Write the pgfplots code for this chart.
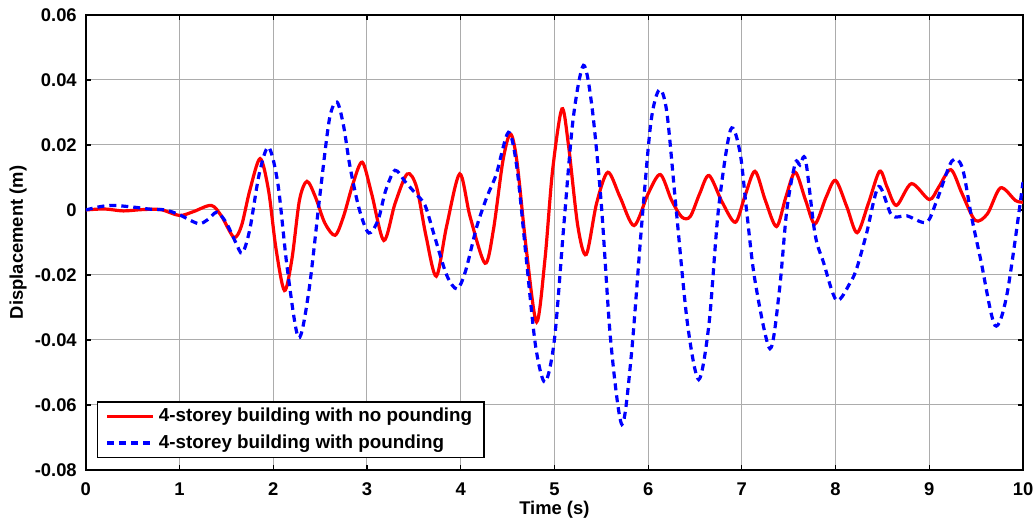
\documentclass[border=0pt]{standalone}
\usepackage{pgfplots}
\pgfplotsset{compat=1.18}
\usepackage{fontspec}
\setmainfont{Liberation Sans}
\begin{document}
\begin{tikzpicture}
\begin{axis}[
  scale only axis,
  width=468.7pt, height=227.5pt,
  xmin=0, xmax=10, ymin=-0.08, ymax=0.06,
  scaled x ticks=false, scaled y ticks=false,
  xtick={0,1,...,10},
  xticklabels={0,1,2,3,4,5,6,7,8,9,10},
  ytick={-0.08,-0.06,-0.04,-0.02,0,0.02,0.04,0.06},
  yticklabels={-0.08,-0.06,-0.04,-0.02,0,0.02,0.04,0.06},
  tick align=inside, tickpos=both,
  major tick length=2.5pt,
  every tick/.style={black, line width=0.6pt},
  axis line style={black, line width=1pt},
  grid=major,
  major grid style={gray!65, line width=0.5pt},
  tick label style={font=\bfseries\fontsize{9.2}{11}\selectfont},
  xticklabel style={yshift=-3pt},
  yticklabel style={xshift=-1pt},
  xlabel={Time (s)}, ylabel={Displacement (m)},
  label style={font=\bfseries\fontsize{9.2}{11}\selectfont},
  xlabel style={at={(axis description cs:0.5,-0.0866)}, anchor=center},
  ylabel style={at={(axis description cs:-0.0723,0.5)}, anchor=center},
  legend style={at={(0.012,0.026)}, anchor=south west, draw=black, line width=0.7pt,
    font=\bfseries\fontsize{9.4}{11}\selectfont, row sep=1pt,
    inner xsep=4pt, inner ysep=1pt},
  legend cell align=left,
  legend image code/.code={\draw[#1] (0pt,0pt) -- (23pt,0pt);},
]
\addplot[red, line width=1.6pt, smooth, tension=0.5] coordinates {
(0,0) (0.2,0.0003) (0.4,-0.0003) (0.6,0.0001) (0.8,0.0001) (1.0,-0.0017)
(1.15,-0.0005) (1.34,0.0014) (1.45,-0.002) (1.58,-0.0084) (1.66,-0.005)
(1.75,0.006) (1.86,0.0158) (1.95,0.006) (2.03,-0.012) (2.12,-0.0248)
(2.2,-0.015) (2.28,0.003) (2.36,0.0088) (2.45,0.004) (2.55,-0.004)
(2.66,-0.0078) (2.75,-0.002) (2.85,0.008) (2.95,0.0147) (3.05,0.005)
(3.18,-0.0094) (3.3,0.002) (3.43,0.0111) (3.53,0.007) (3.63,-0.008)
(3.74,-0.0204) (3.85,-0.005) (3.99,0.0111) (4.1,-0.002) (4.26,-0.0164)
(4.35,-0.006) (4.45,0.015) (4.53,0.0234) (4.6,0.015) (4.7,-0.012)
(4.81,-0.0345) (4.9,-0.015) (4.98,0.012) (5.08,0.0311) (5.15,0.02)
(5.25,-0.005) (5.34,-0.0137) (5.45,0.002) (5.57,0.0116) (5.7,0.004)
(5.85,-0.0048) (6.0,0.005) (6.13,0.0109) (6.25,0.003) (6.36,-0.0022)
(6.45,-0.002) (6.55,0.005) (6.65,0.0106) (6.79,0.0024) (6.93,-0.0038)
(7.03,0.004) (7.14,0.0119) (7.25,0.003) (7.37,-0.0051) (7.47,0.004)
(7.57,0.0116) (7.68,0.003) (7.78,-0.0043) (7.9,0.004) (8.0,0.0091)
(8.12,0.001) (8.23,-0.007) (8.35,0.002) (8.47,0.0119) (8.55,0.007)
(8.65,0.0014) (8.81,0.0081) (9.0,0.0032) (9.1,0.007) (9.23,0.0124)
(9.35,0.005) (9.49,-0.0032) (9.62,-0.0012) (9.76,0.0068) (9.92,0.0029)
(10,0.0024)
};
\addlegendentry{4-storey building with no pounding}
\addplot[blue, line width=1.6pt, dash pattern=on 3.5pt off 2.5pt, smooth, tension=0.5] coordinates {
(0,0) (0.15,0.001) (0.29,0.0014) (0.5,0.0009) (0.7,0.0002) (0.85,0.0)
(1.0,-0.0015) (1.2,-0.0042) (1.30,-0.003) (1.40,-0.0007) (1.5,-0.004)
(1.6,-0.010) (1.67,-0.0133) (1.75,-0.006) (1.85,0.011) (1.95,0.0193)
(2.05,0.008) (2.15,-0.018) (2.27,-0.0393) (2.38,-0.025) (2.5,0.005)
(2.6,0.028) (2.68,0.0332) (2.75,0.026) (2.82,0.0132) (2.92,0.000)
(3.02,-0.0071) (3.12,-0.003) (3.2,0.006) (3.30,0.0122) (3.41,0.0086)
(3.52,0.005) (3.62,0.0014) (3.72,-0.008) (3.85,-0.02) (3.96,-0.0243)
(4.05,-0.019) (4.17,-0.0053) (4.28,0.004) (4.38,0.011) (4.51,0.0239)
(4.6,0.013) (4.7,-0.015) (4.8,-0.042) (4.90,-0.053) (5.0,-0.04)
(5.1,-0.005) (5.2,0.028) (5.31,0.0445) (5.4,0.032) (5.5,0.002)
(5.6,-0.04) (5.72,-0.066) (5.82,-0.045) (5.93,-0.005) (6.03,0.027)
(6.12,0.037) (6.2,0.03) (6.3,0.0) (6.42,-0.035) (6.54,-0.0522)
(6.65,-0.035) (6.75,0.0) (6.88,0.0247) (6.98,0.0178) (7.05,0.0)
(7.14,-0.0217) (7.30,-0.0427) (7.4,-0.025) (7.48,0.0) (7.57,0.0144)
(7.62,0.0138) (7.68,0.0154) (7.78,-0.0073) (7.87,-0.016) (8.01,-0.0278)
(8.16,-0.0222) (8.23,-0.0176) (8.33,-0.0073) (8.46,0.0072) (8.60,-0.0017)
(8.76,-0.0018) (8.97,-0.0038) (9.08,0.0029) (9.24,0.015) (9.35,0.0132)
(9.45,-0.002) (9.55,-0.0155) (9.70,-0.0355) (9.83,-0.0258) (10,0.0086)
};
\addlegendentry{4-storey building with pounding}
\end{axis}
\pgfresetboundingbox
\path ([xshift=-42.9pt,yshift=-25.6pt]current axis.south west) rectangle ([xshift=6pt,yshift=7.5pt]current axis.north east);
\end{tikzpicture}
\end{document}
